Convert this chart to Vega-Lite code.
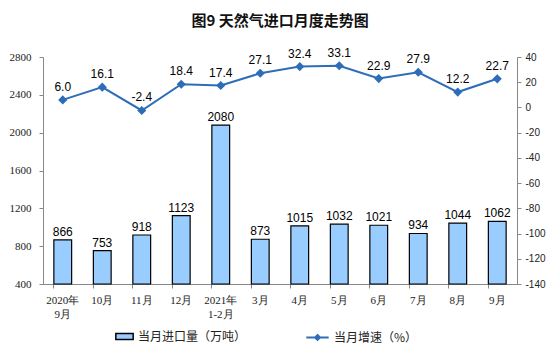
{
  "$schema": "https://vega.github.io/schema/vega-lite/v6.json",
  "width": 474,
  "height": 227,
  "autosize": "none",
  "padding": {"left": 43, "top": 57, "right": 37, "bottom": 62},
  "background": "white",
  "title": {"text": "图9  天然气进口月度走势图", "font": "Noto Sans CJK SC", "fontSize": 15, "fontWeight": "bold", "color": "#111", "offset": 18, "anchor": "middle"},
  "config": {"view": {"stroke": null}, "locale": {"number": {"decimal": ".", "thousands": "", "grouping": [3], "currency": ["", ""], "minus": "-"}}},
  "data": {"values": [
    {"m": "2020年|9月", "v": 866, "g": 6.0},
    {"m": "10月", "v": 753, "g": 16.1},
    {"m": "11月", "v": 918, "g": -2.4},
    {"m": "12月", "v": 1123, "g": 18.4},
    {"m": "2021年|1-2月", "v": 2080, "g": 17.4},
    {"m": "3月", "v": 873, "g": 27.1},
    {"m": "4月", "v": 1015, "g": 32.4},
    {"m": "5月", "v": 1032, "g": 33.1},
    {"m": "6月", "v": 1021, "g": 22.9},
    {"m": "7月", "v": 934, "g": 27.9},
    {"m": "8月", "v": 1044, "g": 12.2},
    {"m": "9月", "v": 1062, "g": 22.7}
  ]},
  "encoding": {
    "x": {"field": "m", "type": "nominal", "sort": null, "scale": {"paddingInner": 0.55, "paddingOuter": 0.275},
      "axis": {"title": null, "labelAngle": 0, "labelExpr": "split(datum.label, '|')", "labelFont": "Liberation Serif", "labelFontSize": 11, "labelColor": "#222", "domainColor": "#888", "tickColor": "#888", "bandPosition": 0, "tickSize": 4, "labelPadding": 6, "labelLineHeight": 14}}
  },
  "layer": [
    {
      "encoding": {
        "y": {"field": "v", "type": "quantitative", "scale": {"domain": [400, 2800], "zero": false},
          "axis": {"title": null, "format": "d", "values": [400, 800, 1200, 1600, 2000, 2400, 2800], "labelFont": "Liberation Serif", "labelFontSize": 11, "labelColor": "#222", "domainColor": "#888", "tickColor": "#888", "tickSize": 4, "grid": false, "labelPadding": 8}}
      },
      "layer": [
        {"mark": {"type": "bar", "stroke": "#000", "strokeWidth": 1.2},
         "encoding": {"y2": {"datum": 400}, "fill": {"datum": "当月进口量（万吨）", "type": "nominal", "scale": {"range": ["#99CCFF"]},
           "legend": {"title": null, "orient": "none", "legendX": 72, "legendY": 270, "symbolType": "M-1,-0.35H1V0.35H-1Z", "symbolSize": 300, "symbolStrokeColor": "#000", "symbolStrokeWidth": 1.5, "labelFont": "Noto Sans CJK SC", "labelFontSize": 12, "labelColor": "#222"}}}},
        {"mark": {"type": "text", "dy": -8, "font": "Liberation Sans", "fontSize": 12, "color": "#000"},
         "encoding": {"text": {"field": "v", "type": "quantitative", "format": "d"}}}
      ]
    },
    {
      "encoding": {
        "y": {"field": "g", "type": "quantitative", "scale": {"domain": [-140, 40]},
          "axis": {"title": null, "orient": "right", "format": "d", "values": [-140, -120, -100, -80, -60, -40, -20, 0, 20, 40], "labelFont": "Liberation Sans", "labelFontSize": 10, "labelColor": "#222", "domainColor": "#888", "tickColor": "#888", "tickSize": 4, "grid": false, "labelPadding": 4}}
      },
      "layer": [
        {"mark": {"type": "line", "strokeWidth": 2, "point": {"shape": "diamond", "size": 40, "filled": true, "color": "#2E6DB8"}},
         "encoding": {"stroke": {"datum": "当月增速（%）", "type": "nominal", "scale": {"range": ["#2E6DB8"]},
           "legend": {"title": null, "orient": "none", "legendX": 262, "legendY": 268, "symbolType": "M-1,0H1M0,-0.22L0.22,0L0,0.22L-0.22,0Z", "symbolSize": 500, "symbolStrokeWidth": 2, "symbolFillColor": "#2E6DB8", "labelFont": "Noto Sans CJK SC", "labelFontSize": 12, "labelColor": "#222"}}}},
        {"mark": {"type": "text", "dy": -13, "font": "Liberation Sans", "fontSize": 12, "color": "#000"},
         "encoding": {"text": {"field": "g", "type": "quantitative", "format": ".1f"}}}
      ]
    }
  ],
  "resolve": {"scale": {"y": "independent", "fill": "independent", "stroke": "independent"}}
}
